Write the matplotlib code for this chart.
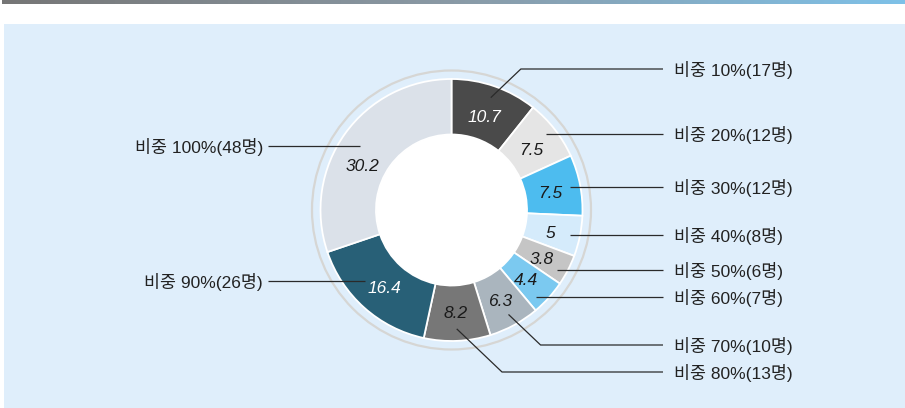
import numpy as np
import matplotlib
matplotlib.use('Agg')
import matplotlib.pyplot as plt
from matplotlib.patches import Rectangle, Circle
from matplotlib.colors import LinearSegmentedColormap

# ---------------- data ----------------
categories = ['비중 10%(17명)', '비중 20%(12명)', '비중 30%(12명)', '비중 40%(8명)',
              '비중 50%(6명)', '비중 60%(7명)', '비중 70%(10명)', '비중 80%(13명)',
              '비중 90%(26명)', '비중 100%(48명)']
shares = [10.7, 7.5, 7.5, 5, 3.8, 4.4, 6.3, 8.2, 16.4, 30.2]
value_labels = ['10.7', '7.5', '7.5', '5', '3.8', '4.4', '6.3', '8.2', '16.4', '30.2']

# ---------------- style / layout ----------------
colors = ['#4a4a4a', '#e5e5e5', '#4dbcef', '#d5ebfb', '#c5c5c5',
          '#7bc9f0', '#aab5be', '#777777', '#286077', '#dbe1e9']
value_colors = ['white', '#1a1a1a', '#1a1a1a', '#1a1a1a', '#1a1a1a',
                '#1a1a1a', '#1a1a1a', '#1a1a1a', 'white', '#1a1a1a']
text_side = ['R'] * 8 + ['L'] * 2
text_y_px = [69, 134, 187, 235, 270, 297, 345, 372, 281, 146]
label_angle_shift = [0, 0, 0, 0, 0, 0, 0, 0, 0, 8]

W, H = 905, 408
CX, CY_PX = 451.5, 210
R_OUT, R_IN, R_RING = 131, 75.5, 139.5
PANEL_BG = '#dfeefb'
FONT = ['Liberation Sans', 'Noto Sans CJK KR']
LINE_C = '#2a2a2a'


def Y(py):
    return H - py


fig = plt.figure(figsize=(W / 100, H / 100), dpi=100)
fig.patch.set_facecolor('white')
ax = fig.add_axes([0, 0, 1, 1])

# top gradient bar
cmap = LinearSegmentedColormap.from_list('bar', ['#767676', '#8a9aa6', '#7ec1e8'])
grad = np.linspace(0, 1, 512).reshape(1, -1)
ax.imshow(grad, cmap=cmap, extent=(2, W, Y(4.5), Y(0)), aspect='auto', zorder=1)

# panel
ax.add_patch(Rectangle((4, 0), W - 4, Y(24), facecolor=PANEL_BG, edgecolor='none', zorder=1))

# outer ring
ax.add_patch(Circle((CX, Y(CY_PX)), R_RING, facecolor='none', edgecolor='#d6d6d4',
                    linewidth=1.6, zorder=2))

wedges, _ = ax.pie(shares, colors=colors, startangle=90, counterclock=False,
                   radius=R_OUT, center=(CX, Y(CY_PX)),
                   wedgeprops=dict(width=R_OUT - R_IN, edgecolor='white', linewidth=1.3))
for w in wedges:
    w.set_zorder(3)
ax.add_patch(Circle((CX, Y(CY_PX)), R_IN, facecolor='white', edgecolor='none', zorder=4))

for i, w in enumerate(wedges):
    mid = np.deg2rad((w.theta1 + w.theta2) / 2)
    la = mid + np.deg2rad(label_angle_shift[i])
    rl = 101 if label_angle_shift[i] == 0 else 100
    lx = CX + rl * np.cos(la)
    ly = Y(CY_PX) + rl * np.sin(la) - 3
    ax.text(lx, ly, value_labels[i], ha='center', va='center', fontsize=12.5,
            style='italic', color=value_colors[i], family=FONT, zorder=6)

    ty = Y(text_y_px[i])
    if text_side[i] == 'R':
        ax_ = CX + 119 * np.cos(mid)
        ay_ = Y(CY_PX) + 119 * np.sin(mid)
        if abs(ay_ - ty) > 15:
            ex = ax_ + abs(ay_ - ty) * 1.05
            xs = [ax_, ex, 663]
            ys = [ay_, ty, ty]
        else:
            dy = ty - Y(CY_PX)
            x0 = CX + np.sqrt(max(121 ** 2 - dy ** 2, 0))
            xs = [x0, 663]
            ys = [ty, ty]
        ax.plot(xs, ys, color=LINE_C, lw=0.9, zorder=7, solid_capstyle='butt')
        ax.text(674, ty - 1, categories[i], ha='left', va='center', fontsize=12.5,
                color='#222222', family=FONT, zorder=6)
    else:
        dy = ty - Y(CY_PX)
        x0 = CX - np.sqrt(max(112 ** 2 - dy ** 2, 0))
        ax.plot([268, x0], [ty, ty], color=LINE_C, lw=0.9, zorder=7, solid_capstyle='butt')
        ax.text(263, ty - 1, categories[i], ha='right', va='center', fontsize=12.5,
                color='#222222', family=FONT, zorder=6)

ax.set_xlim(0, W)
ax.set_ylim(0, H)
ax.set_aspect('auto')
ax.axis('off')
fig.savefig('out.png', dpi=100, facecolor='white')
